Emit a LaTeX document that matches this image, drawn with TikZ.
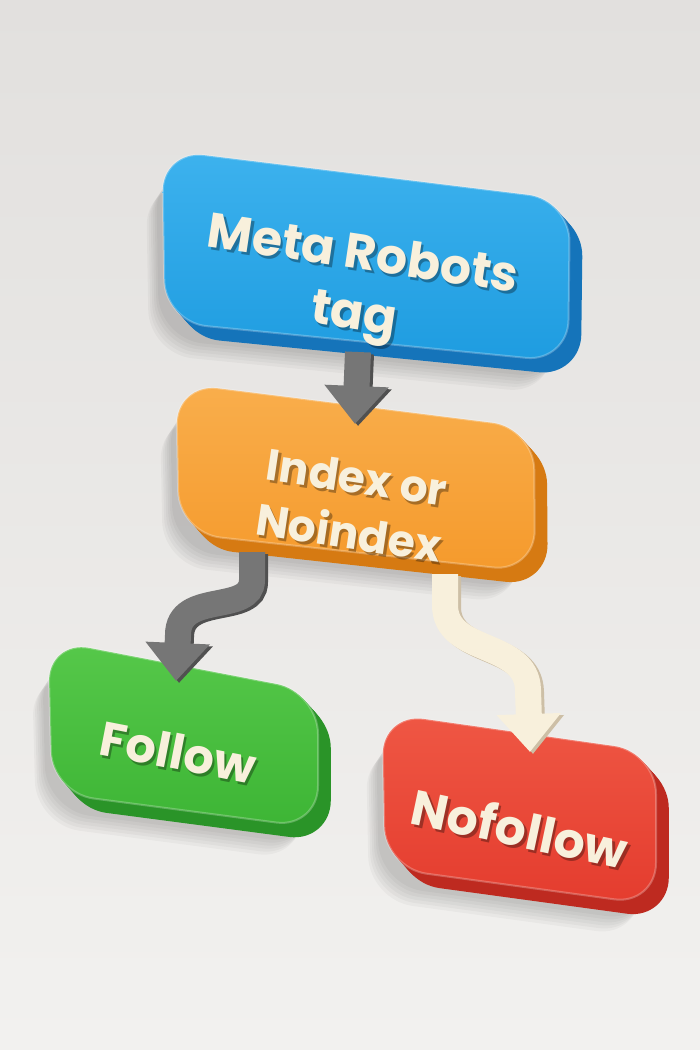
\documentclass[tikz,border=0pt]{standalone}
\usepackage{fontspec}
\newfontfamily\lblfont{Poppins}
\usetikzlibrary{arrows.meta}
\definecolor{bgtop}{HTML}{E2E0DE}
\definecolor{bgbot}{HTML}{F2F1EF}
\definecolor{blueF}{HTML}{1E9CE0}
\definecolor{blueT}{HTML}{3DB2EE}
\definecolor{blueS}{HTML}{1574BA}
\definecolor{oranF}{HTML}{F59A2C}
\definecolor{oranT}{HTML}{F9AE4C}
\definecolor{oranS}{HTML}{D67A12}
\definecolor{greenF}{HTML}{3DB535}
\definecolor{greenT}{HTML}{56C84A}
\definecolor{greenS}{HTML}{2A9428}
\definecolor{redF}{HTML}{E43C2E}
\definecolor{redT}{HTML}{EF5744}
\definecolor{redS}{HTML}{BE2A20}
\definecolor{cream}{HTML}{F8F0DC}
\definecolor{creamS}{HTML}{CDBFA6}
\definecolor{grayA}{HTML}{767676}
\definecolor{grayS}{HTML}{505050}
\tikzset{
  lbl/.style={text=cream, align=center, inner sep=0pt},
  lblsh/.style={text=black, opacity=.32, align=center, inner sep=0pt},
  garrow/.style={draw=grayA, line width=26pt, -{Triangle[length=38pt,width=62pt]}},
  garrowsh/.style={draw=grayS, line width=26pt, -{Triangle[length=38pt,width=62pt]}},
  carrow/.style={draw=cream, line width=26pt, -{Triangle[length=38pt,width=62pt]}},
  carrowsh/.style={draw=creamS, line width=26pt, -{Triangle[length=38pt,width=62pt]}},
}
\newcommand\mkslab[7]{%
  \foreach \s in {1,...,6}{\fill[black, opacity=.03, rounded corners=44pt, shift={(-4-\s*2,-14-\s*3)}] (#1) -- (#2) -- (#3) -- (#4) -- cycle;}
  \foreach \s in {1,...,8}{\fill[#5, rounded corners=42pt, shift={(\s*1.6,-\s*1.8)}] (#1) -- (#2) -- (#3) -- (#4) -- cycle;}
  \shade[top color=#6, bottom color=#7, rounded corners=42pt] (#1) -- (#2) -- (#3) -- (#4) -- cycle;
  \draw[white, opacity=.25, line width=2pt, rounded corners=42pt] (#1) -- (#2) -- (#3) -- (#4) -- cycle;
}
\begin{document}
\begin{tikzpicture}[x=1pt,y=1pt]
\useasboundingbox (0,0) rectangle (700,-1050);
\shade[top color=bgtop, bottom color=bgbot] (0,0) rectangle (700,-1050);

% boxes
\mkslab{162,-150}{570,-200}{568,-362}{165,-322}{blueS}{blueT}{blueF}
\mkslab{176,-383}{534,-428}{535,-572}{179,-533}{oranS}{oranT}{oranF}
\mkslab{48,-640}{318,-692}{318,-828}{52,-793}{greenS}{greenT}{greenF}
\mkslab{382,-713}{656,-752}{656,-905}{385,-868}{redS}{redT}{redF}

% connector end points
\coordinate (b-out) at (358,-352);
\coordinate (o-in) at (355,-424);
\coordinate (o-outL) at (252,-552);
\coordinate (g-in) at (176,-681);
\coordinate (o-outR) at (445,-574);
\coordinate (r-in) at (530,-752);

% arrows
\draw[garrowsh] ([shift={(3,-2)}]b-out) -- ([shift={(3,-2)}]o-in);
\draw[garrow] (b-out) -- (o-in);
\draw[garrowsh] ([shift={(3,-2)}]o-outL) -- (255,-582) .. controls (255,-617) and (181,-592) .. (181,-637) -- ([shift={(3,-2)}]g-in);
\draw[garrow] (o-outL) -- (252,-580) .. controls (252,-615) and (178,-590) .. (178,-635) -- (g-in);
\draw[carrowsh] ([shift={(3,-2)}]o-outR) -- (448,-607) .. controls (448,-657) and (530,-642) .. (531,-692) -- ([shift={(3,-2)}]r-in);
\draw[carrow] (o-outR) -- (445,-605) .. controls (445,-655) and (527,-640) .. (528,-690) -- (r-in);

% labels (with their dark drop shadow)
\node[lblsh, rotate=-8.5, font=\lblfont\bfseries\fontsize{49}{60}\selectfont] (t1s) at (360.5,-291) {Meta Robots\\tag};
\node[lbl, rotate=-8.5, font=\lblfont\bfseries\fontsize{49}{60}\selectfont] (t1) at (358,-288) {Meta Robots\\tag};
\node[lblsh, rotate=-8.5, font=\lblfont\bfseries\fontsize{44}{56}\selectfont] (t2s) at (355.5,-508) {Index or\\Noindex};
\node[lbl, rotate=-8.5, font=\lblfont\bfseries\fontsize{44}{56}\selectfont] (t2) at (353,-505) {Index or\\Noindex};
\node[lblsh, rotate=-11, font=\lblfont\bfseries\fontsize{48}{60}\selectfont] (t3s) at (180.5,-755) {Follow};
\node[lbl, rotate=-11, font=\lblfont\bfseries\fontsize{48}{60}\selectfont] (t3) at (178,-752) {Follow};
\node[lblsh, rotate=-12, font=\lblfont\bfseries\fontsize{49}{60}\selectfont] (t4s) at (522.5,-831) {Nofollow};
\node[lbl, rotate=-12, font=\lblfont\bfseries\fontsize{49}{60}\selectfont] (t4) at (520,-828) {Nofollow};
\end{tikzpicture}
\end{document}
